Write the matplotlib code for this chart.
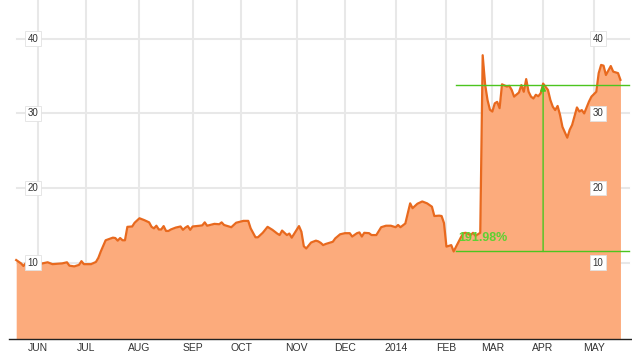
import matplotlib
matplotlib.use("Agg")
import matplotlib.pyplot as plt

# trading-day index and closing price
day = [0, 2, 3, 4, 5, 8, 13, 15, 19, 21, 22, 24, 26, 27, 28, 31, 33, 34, 35, 37,
       40, 41, 42, 43, 44, 45, 46, 48, 49, 51, 53, 55, 56, 57, 58, 59, 60, 61, 62, 63,
       64, 66, 68, 69, 70, 71, 72, 73, 76, 77, 78, 79, 82, 84, 85, 86, 89, 91, 94, 96,
       97, 99, 100, 102, 104, 106, 108, 109, 110, 112, 113, 114, 116, 117, 118, 119, 120, 122, 124, 125,
       126, 127, 128, 131, 132, 134, 136, 138, 139, 141, 142, 143, 144, 146, 147, 149, 151, 153, 155, 157,
       158, 159, 161, 163, 164, 166, 168, 170, 172, 173, 175, 176, 177, 178, 180, 181, 182, 184, 185, 186,
       188, 189, 190, 192, 193, 194, 195, 196, 197, 198, 199, 200, 201, 203, 204, 205, 206, 208, 209, 210,
       211, 212, 213, 214, 215, 216, 217, 218, 220, 221, 222, 223, 224, 225, 226, 228, 229, 230, 232, 233,
       234, 235, 237, 238, 240, 241, 242, 243, 244, 246, 247, 249, 250]
price = [10.35, 9.9, 9.55, 9.95, 9.45, 9.7, 10.05, 9.8, 9.9, 10.05, 9.6, 9.5, 9.7, 10.2, 9.8, 9.8, 10.1, 10.65, 11.5, 13.0,
         13.35, 13.3, 12.95, 13.3, 13.0, 13.0, 14.8, 14.85, 15.35, 15.95, 15.7, 15.4, 14.8, 14.6, 14.95, 14.45, 14.45, 14.9, 14.25, 14.25,
         14.45, 14.7, 14.85, 14.4, 14.7, 14.9, 14.4, 14.85, 14.95, 15.0, 15.4, 14.95, 15.2, 15.15, 15.4, 15.05, 14.75, 15.35, 15.6, 15.6,
         14.6, 13.4, 13.4, 14.0, 14.8, 14.4, 13.9, 13.7, 14.3, 13.7, 13.9, 13.35, 14.4, 14.9, 14.15, 12.2, 11.9, 12.7, 12.95, 12.85,
         12.65, 12.35, 12.5, 12.8, 13.25, 13.8, 13.95, 13.95, 13.5, 13.95, 14.05, 13.5, 14.0, 13.95, 13.7, 13.7, 14.75, 14.95, 14.95, 14.75,
         15.05, 14.75, 15.25, 17.95, 17.3, 17.9, 18.2, 17.95, 17.5, 16.25, 16.3, 16.25, 15.3, 12.15, 12.35, 11.5, 12.15, 13.4, 13.95, 14.0,
         13.7, 14.0, 13.6, 14.0, 37.8, 33.9, 31.8, 30.5, 30.25, 31.35, 31.55, 30.7, 33.9, 33.6, 33.7, 33.15, 32.25, 32.8, 33.8, 32.9,
         34.6, 32.9, 32.25, 32.0, 32.5, 32.3, 32.7, 34.0, 33.15, 31.8, 30.9, 30.45, 31.0, 29.8, 28.2, 26.75, 27.8, 28.45, 30.8, 30.25,
         30.45, 30.0, 31.6, 32.25, 32.9, 35.4, 36.5, 36.4, 35.15, 36.35, 35.6, 35.4, 34.5]

month_labels = ["JUN", "JUL", "AUG", "SEP", "OCT", "NOV", "DEC", "2014", "FEB", "MAR", "APR", "MAY"]
month_days = [9, 29, 51, 73, 93, 116, 136, 157, 178, 197, 218, 239]
y_ticks = [10, 20, 30, 40]

# annotation: low / high reference levels and label
ann_start_day = 182
ann_peak_day = 218
ann_low = 11.5
ann_high = 33.8
ann_text = "191.98%"

W, H = 632, 356
fig = plt.figure(figsize=(W / 100, H / 100), dpi=100)
ax = fig.add_axes([0, 17 / H, 1, 339 / H])
x0 = -16.2 / 2.417
x1 = (W - 16.2) / 2.417
ymin = -0.23
ax.set_xlim(x0, x1)
ax.set_ylim(ymin, 45.2)
for s in ["top", "right", "left"]:
    ax.spines[s].set_visible(False)
ax.spines["bottom"].set_color("#222222")
ax.spines["bottom"].set_linewidth(1.0)
ax.spines["bottom"].set_bounds((9 - 16.2) / 2.417, x1)
ax.set_yticks([])
ax.set_xticks([])

grid_c = "#e8e8e8"
for d in month_days:
    ax.axvline(d, color=grid_c, lw=1.5, zorder=0)
for v in y_ticks:
    ax.axhline(v, xmin=17 / W, xmax=629 / W, color=grid_c, lw=1.5, zorder=0)

ax.fill_between(day, price, ymin, color="#fcab7c", lw=0, zorder=1)
ax.plot(day, price, color="#e8691e", lw=1.6, zorder=2, solid_joinstyle="round")

font = "Liberation Sans"
box = dict(boxstyle="square,pad=0.25", fc="white", ec="#e2e2e2", lw=0.6)
for v in y_ticks:
    ax.text(33 / 2.417 + x0, v, str(v), ha="center", va="center", fontsize=7,
            family=font, color="#333333", bbox=box, zorder=5)
    ax.text(598 / 2.417 + x0, v, str(v), ha="center", va="center", fontsize=7,
            family=font, color="#333333", bbox=box, zorder=5)

for d, lab in zip(month_days, month_labels):
    ax.text(d, -1.4, lab, ha="center", va="center", fontsize=7.5, family=font,
            color="#333333", clip_on=False)

green = "#4cc51f"
xr = (629 - 16.2) / 2.417
ax.plot([ann_start_day, xr], [ann_high, ann_high], color=green, lw=1.0, zorder=3)
ax.plot([ann_start_day, xr], [ann_low, ann_low], color=green, lw=1.0, zorder=3)
ax.annotate("", xy=(ann_peak_day, ann_high), xytext=(ann_peak_day, ann_low),
            arrowprops=dict(arrowstyle="-|>", color=green, lw=1.0,
                            mutation_scale=8, shrinkA=0, shrinkB=0), zorder=3)
ax.text(ann_start_day + 0.8, ann_low + 1.05, ann_text, ha="left", va="bottom",
        fontsize=9, family=font, weight="bold", color="#5ed132", zorder=4)

fig.savefig("out.png", dpi=100)
